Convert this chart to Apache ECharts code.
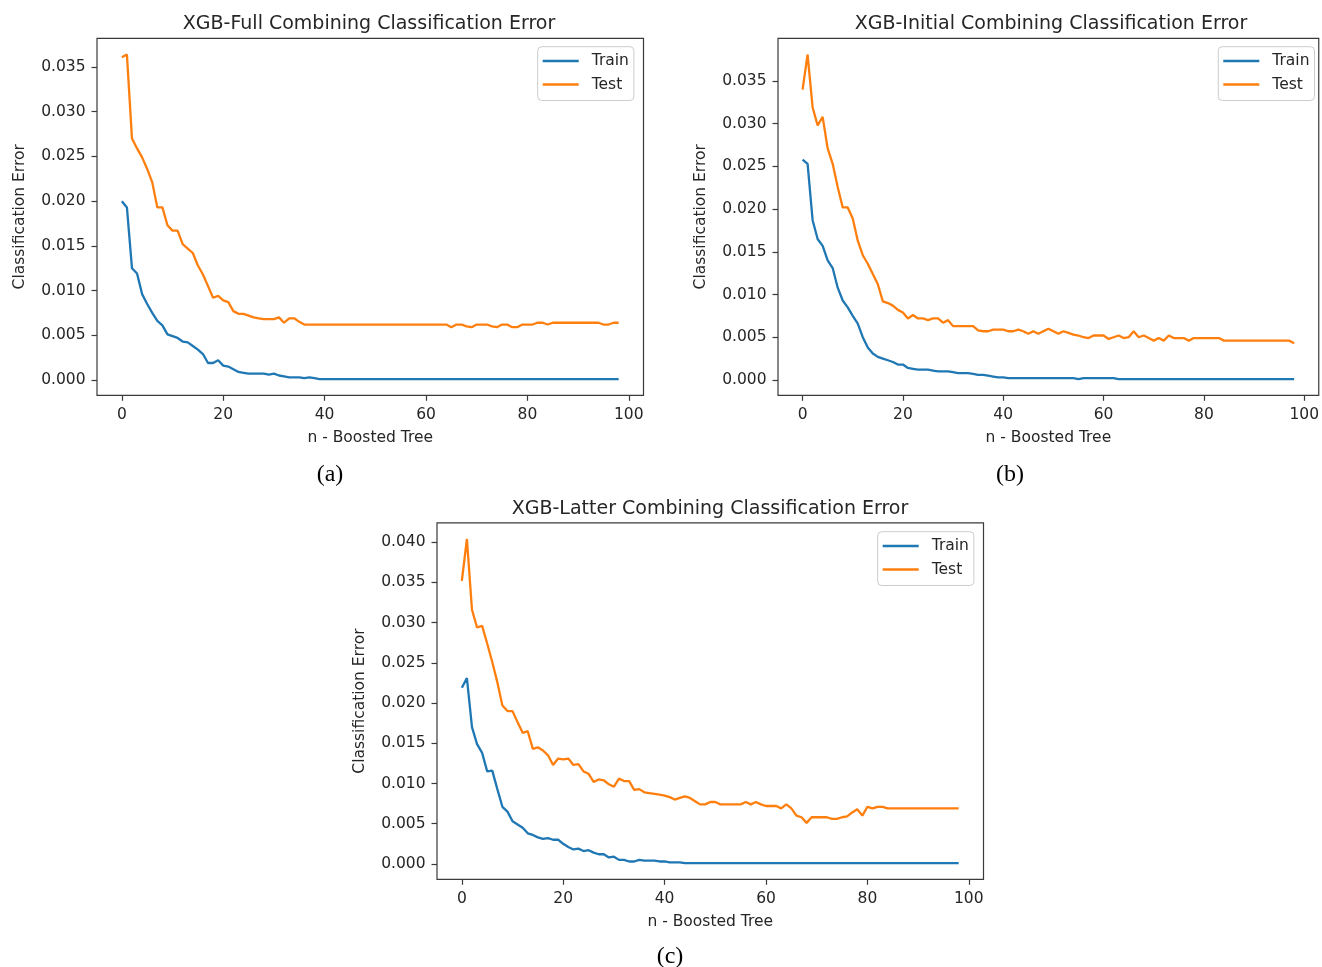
<!DOCTYPE html>
<html>
<head>
<meta charset="utf-8">
<script src="https://cdn.jsdelivr.net/npm/echarts@6/dist/echarts.min.js"></script>
<style>
html,body{margin:0;padding:0;background:#fff;}
#chart{width:1322px;height:967px;}
</style>
</head>
<body>
<div id="chart"></div>
<script>
// ---- data ----
const trees = Array.from({length: 99}, (_, i) => i);
const xTicks = [0, 20, 40, 60, 80, 100];
const yTicksAB = [0, 0.005, 0.010, 0.015, 0.020, 0.025, 0.030, 0.035];
const yTicksC = [0, 0.005, 0.010, 0.015, 0.020, 0.025, 0.030, 0.035, 0.040];
const titles = [
  'XGB-Full Combining Classification Error',
  'XGB-Initial Combining Classification Error',
  'XGB-Latter Combining Classification Error'
];
const captions = ['(a)', '(b)', '(c)'];
const seriesNames = ['Train', 'Test'];

const trainA = [0.0200,0.0193,0.0125,0.0119,0.0096,0.0085,0.0075,0.0066,0.0061,0.0051,
0.0049,0.0047,0.0043,0.0042,0.0038,0.0034,0.0029,0.0019,0.0019,0.0022,
0.0016,0.0015,0.0012,0.0009,0.0008,0.0007,0.0007,0.0007,0.0007,0.0006,
0.0007,0.0005,0.0004,0.0003,0.0003,0.0003,0.0002,0.0003,0.0002,0.0001,
0.0001,0.0001,0.0001,0.0001,0.0001,0.0001,0.0001,0.0001,0.0001,0.0001,
0.0001,0.0001,0.0001,0.0001,0.0001,0.0001,0.0001,0.0001,0.0001,0.0001,
0.0001,0.0001,0.0001,0.0001,0.0001,0.0001,0.0001,0.0001,0.0001,0.0001,
0.0001,0.0001,0.0001,0.0001,0.0001,0.0001,0.0001,0.0001,0.0001,0.0001,
0.0001,0.0001,0.0001,0.0001,0.0001,0.0001,0.0001,0.0001,0.0001,0.0001,
0.0001,0.0001,0.0001,0.0001,0.0001,0.0001,0.0001,0.0001,0.0001];
const testA = [0.0361,0.0364,0.0270,0.0259,0.0249,0.0236,0.0221,0.0193,0.0193,0.0173,
0.0167,0.0167,0.0152,0.0147,0.0142,0.0128,0.0118,0.0105,0.0092,0.0094,
0.0089,0.0087,0.0077,0.0074,0.0074,0.0072,0.0070,0.0069,0.0068,0.0068,
0.0068,0.0070,0.0064,0.0069,0.0069,0.0065,0.0062,0.0062,0.0062,0.0062,
0.0062,0.0062,0.0062,0.0062,0.0062,0.0062,0.0062,0.0062,0.0062,0.0062,
0.0062,0.0062,0.0062,0.0062,0.0062,0.0062,0.0062,0.0062,0.0062,0.0062,
0.0062,0.0062,0.0062,0.0062,0.0062,0.0059,0.0062,0.0062,0.0060,0.0059,
0.0062,0.0062,0.0062,0.0060,0.0059,0.0062,0.0062,0.0059,0.0059,0.0062,
0.0062,0.0062,0.0064,0.0064,0.0062,0.0064,0.0064,0.0064,0.0064,0.0064,
0.0064,0.0064,0.0064,0.0064,0.0064,0.0062,0.0062,0.0064,0.0064];
const trainB = [0.0258,0.0253,0.0187,0.0165,0.0157,0.0140,0.0131,0.0108,0.0093,0.0085,
0.0075,0.0066,0.0050,0.0038,0.0031,0.0027,0.0025,0.0023,0.0021,0.0018,
0.0018,0.0014,0.0013,0.0012,0.0012,0.0012,0.0011,0.0010,0.0010,0.0010,
0.0009,0.0008,0.0008,0.0008,0.0007,0.0006,0.0006,0.0005,0.0004,0.0003,
0.0003,0.0002,0.0002,0.0002,0.0002,0.0002,0.0002,0.0002,0.0002,0.0002,
0.0002,0.0002,0.0002,0.0002,0.0002,0.0001,0.0002,0.0002,0.0002,0.0002,
0.0002,0.0002,0.0002,0.0001,0.0001,0.0001,0.0001,0.0001,0.0001,0.0001,
0.0001,0.0001,0.0001,0.0001,0.0001,0.0001,0.0001,0.0001,0.0001,0.0001,
0.0001,0.0001,0.0001,0.0001,0.0001,0.0001,0.0001,0.0001,0.0001,0.0001,
0.0001,0.0001,0.0001,0.0001,0.0001,0.0001,0.0001,0.0001,0.0001];
const testB = [0.0340,0.0381,0.0319,0.0298,0.0308,0.0271,0.0253,0.0226,0.0202,0.0202,
0.0189,0.0163,0.0146,0.0136,0.0124,0.0112,0.0092,0.0090,0.0087,0.0082,
0.0079,0.0072,0.0076,0.0072,0.0072,0.0070,0.0072,0.0072,0.0067,0.0070,
0.0063,0.0063,0.0063,0.0063,0.0063,0.0058,0.0057,0.0057,0.0059,0.0059,
0.0059,0.0057,0.0057,0.0059,0.0057,0.0054,0.0057,0.0054,0.0057,0.0060,
0.0057,0.0054,0.0057,0.0055,0.0053,0.0052,0.0050,0.0049,0.0052,0.0052,
0.0052,0.0048,0.0050,0.0052,0.0049,0.0050,0.0057,0.0050,0.0052,0.0049,
0.0046,0.0049,0.0046,0.0052,0.0049,0.0049,0.0049,0.0046,0.0049,0.0049,
0.0049,0.0049,0.0049,0.0049,0.0046,0.0046,0.0046,0.0046,0.0046,0.0046,
0.0046,0.0046,0.0046,0.0046,0.0046,0.0046,0.0046,0.0046,0.0043];
const trainC = [0.0219,0.0231,0.0170,0.0149,0.0138,0.0115,0.0116,0.0093,0.0071,0.0065,
0.0053,0.0049,0.0045,0.0038,0.0036,0.0033,0.0031,0.0032,0.0030,0.0030,
0.0025,0.0021,0.0018,0.0019,0.0016,0.0017,0.0014,0.0012,0.0012,0.0008,
0.0009,0.0005,0.0005,0.0003,0.0003,0.0005,0.0004,0.0004,0.0004,0.0003,
0.0003,0.0002,0.0002,0.0002,0.0001,0.0001,0.0001,0.0001,0.0001,0.0001,
0.0001,0.0001,0.0001,0.0001,0.0001,0.0001,0.0001,0.0001,0.0001,0.0001,
0.0001,0.0001,0.0001,0.0001,0.0001,0.0001,0.0001,0.0001,0.0001,0.0001,
0.0001,0.0001,0.0001,0.0001,0.0001,0.0001,0.0001,0.0001,0.0001,0.0001,
0.0001,0.0001,0.0001,0.0001,0.0001,0.0001,0.0001,0.0001,0.0001,0.0001,
0.0001,0.0001,0.0001,0.0001,0.0001,0.0001,0.0001,0.0001,0.0001];
const testC = [0.0352,0.0404,0.0316,0.0294,0.0296,0.0274,0.0251,0.0226,0.0197,0.0190,
0.0190,0.0176,0.0163,0.0165,0.0143,0.0145,0.0141,0.0135,0.0123,0.0131,
0.0130,0.0131,0.0123,0.0124,0.0115,0.0112,0.0102,0.0105,0.0104,0.0099,
0.0096,0.0106,0.0103,0.0103,0.0092,0.0093,0.0089,0.0088,0.0087,0.0086,
0.0085,0.0083,0.0080,0.0082,0.0084,0.0082,0.0078,0.0074,0.0074,0.0077,
0.0077,0.0074,0.0074,0.0074,0.0074,0.0074,0.0077,0.0074,0.0077,0.0074,
0.0072,0.0072,0.0072,0.0069,0.0074,0.0069,0.0060,0.0058,0.0051,0.0058,
0.0058,0.0058,0.0058,0.0056,0.0056,0.0058,0.0059,0.0064,0.0068,0.0060,
0.0071,0.0069,0.0071,0.0071,0.0069,0.0069,0.0069,0.0069,0.0069,0.0069,
0.0069,0.0069,0.0069,0.0069,0.0069,0.0069,0.0069,0.0069,0.0069];

// ---- layout / style ----
const FONT = 'DejaVu Sans';
const TXT = '#262626';
const AX = '#3a3a3a';
const COLORS = ['#1f77b4', '#ff7f0e'];
const panels = [
  {train: trainA, test: testA, yTicks: yTicksAB, grid: {left: 97, top: 38.3, width: 546.5, height: 357}, legend: {left: 537.7, top: 46.7}, title: {x: 369, top: 14.5}, caption: {x: 330, y: 475}},
  {train: trainB, test: testB, yTicks: yTicksAB, grid: {left: 778, top: 38.3, width: 546.5, height: 357}, legend: {left: 1218.3, top: 46.7}, title: {x: 1051, top: 14.5}, caption: {x: 1010, y: 475}},
  {train: trainC, test: testC, yTicks: yTicksC, grid: {left: 437, top: 522.8, width: 546.5, height: 356.5}, legend: {left: 877.7, top: 531.7}, title: {x: 710, top: 499.5}, caption: {x: 670, y: 957}}
];

function pairs(vals) { return trees.map((t, i) => [t, vals[i]]); }

const xMin = trees[0] - 0.05 * (trees[trees.length - 1] - trees[0]);
const xMax = trees[trees.length - 1] + 0.05 * (trees[trees.length - 1] - trees[0]);

const option = {
  animation: false,
  backgroundColor: '#fff',
  title: [], grid: [], xAxis: [], yAxis: [], series: [], legend: [], graphic: []
};

panels.forEach((p, k) => {
  const all = p.train.concat(p.test);
  const dMin = Math.min(...all), dMax = Math.max(...all);
  const pad = 0.05 * (dMax - dMin);
  option.title.push({
    text: titles[k], left: p.title.x, top: p.title.top, textAlign: 'center', padding: 0,
    textStyle: {fontFamily: FONT, fontSize: 19, fontWeight: 'normal', color: TXT}
  });
  option.grid.push(Object.assign({show: true, borderColor: AX, borderWidth: 1.2, backgroundColor: 'transparent', containLabel: false}, p.grid));
  option.xAxis.push({
    type: 'value', gridIndex: k, min: xMin, max: xMax, position: 'bottom',
    axisLine: {show: false, onZero: false}, splitLine: {show: false},
    axisTick: {show: true, customValues: xTicks, length: 5.5, lineStyle: {color: AX, width: 1.2}},
    axisLabel: {customValues: xTicks, margin: 12, fontFamily: FONT, fontSize: 15.5, color: TXT},
    name: 'n - Boosted Tree', nameLocation: 'middle', nameGap: 35,
    nameTextStyle: {fontFamily: FONT, fontSize: 15.5, color: TXT}
  });
  option.yAxis.push({
    type: 'value', gridIndex: k, min: dMin - pad, max: dMax + pad, position: 'left',
    axisLine: {show: false, onZero: false}, splitLine: {show: false},
    axisTick: {show: true, customValues: p.yTicks, length: 5.5, lineStyle: {color: AX, width: 1.2}},
    axisLabel: {customValues: p.yTicks, margin: 11.5, fontFamily: FONT, fontSize: 15.5, color: TXT,
      formatter: v => v.toFixed(3)},
    name: 'Classification Error', nameLocation: 'middle', nameGap: 69,
    nameTextStyle: {fontFamily: FONT, fontSize: 15.5, color: TXT}
  });
  [p.train, p.test].forEach((vals, j) => {
    option.series.push({
      name: seriesNames[j], type: 'line', xAxisIndex: k, yAxisIndex: k,
      data: pairs(vals), symbol: 'none', showSymbol: false,
      lineStyle: {color: COLORS[j], width: 2.3}, itemStyle: {color: COLORS[j]}
    });
  });
  option.legend.push({
    orient: 'vertical', left: p.legend.left, top: p.legend.top,
    data: seriesNames, icon: 'rect', itemWidth: 36, itemHeight: 2.5, itemGap: 5.5,
    padding: [5.3, 5, 7, 5], borderColor: '#cccccc', borderWidth: 1, borderRadius: 4,
    backgroundColor: 'rgba(255,255,255,0.8)', selectedMode: false,
    textStyle: {fontFamily: FONT, fontSize: 15.5, color: TXT, lineHeight: 18, padding: [0, 0, 0, 8]}
  });
  option.graphic.push({
    type: 'text', x: p.caption.x, y: p.caption.y,
    style: {text: captions[k], font: '24px "Liberation Serif"', fill: '#000', textAlign: 'center', textVerticalAlign: 'middle'}
  });
});

const chart = echarts.init(document.getElementById('chart'), null, {renderer: 'canvas'});
chart.setOption(option);
</script>
</body>
</html>
